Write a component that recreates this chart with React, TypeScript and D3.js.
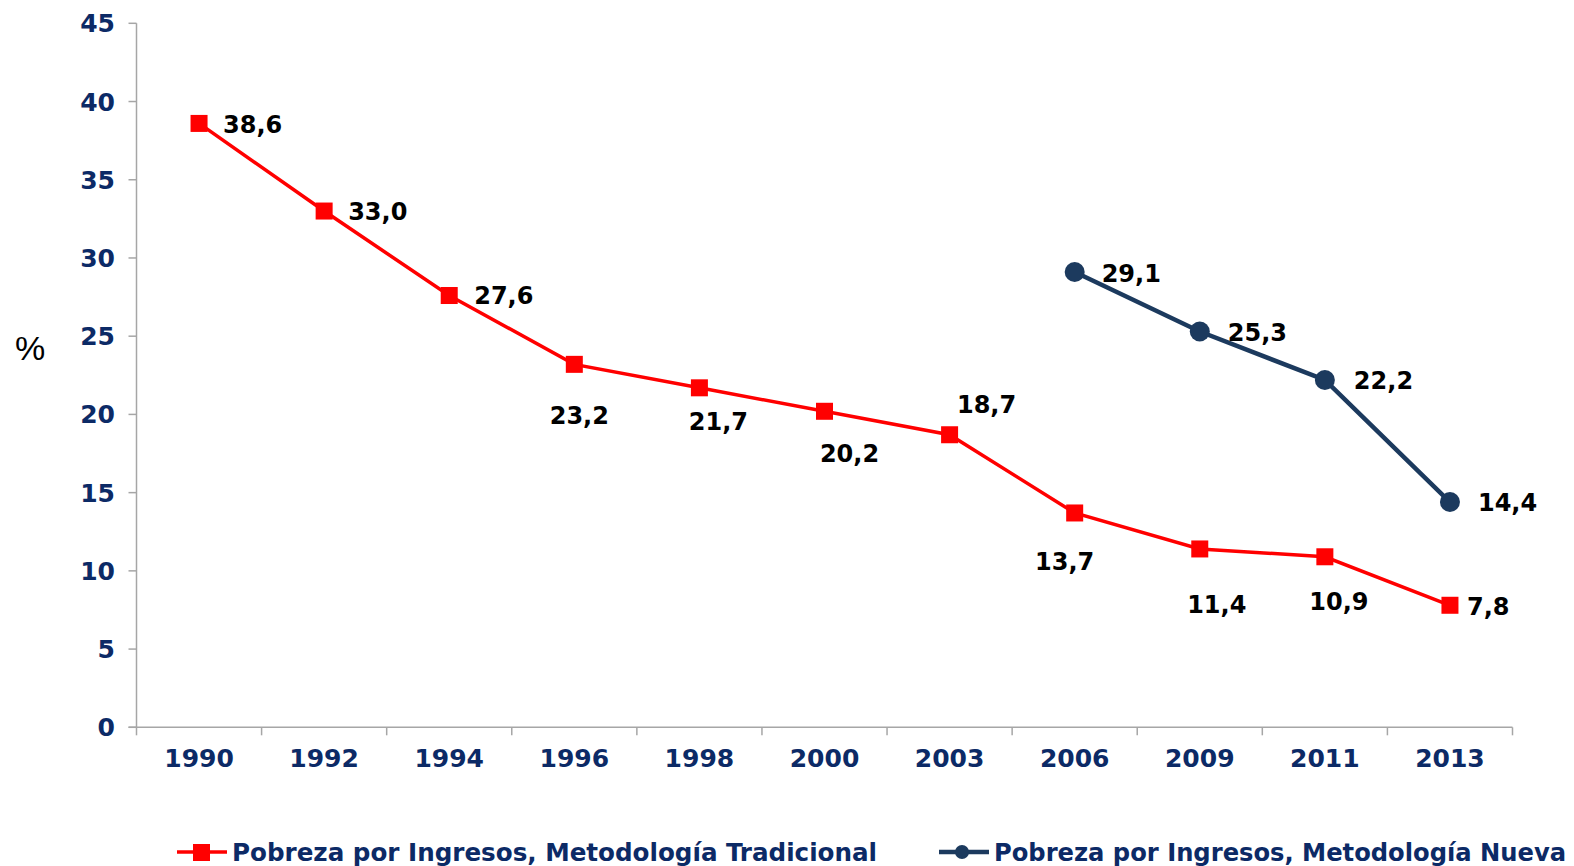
import React from 'react';
import * as d3 from 'd3';

const years = ['1990', '1992', '1994', '1996', '1998', '2000', '2003', '2006', '2009', '2011', '2013'];
const tradicional = [38.6, 33.0, 27.6, 23.2, 21.7, 20.2, 18.7, 13.7, 11.4, 10.9, 7.8];
const nueva = [null, null, null, null, null, null, null, 29.1, 25.3, 22.2, 14.4];
const yTicks = [0, 5, 10, 15, 20, 25, 30, 35, 40, 45];
// label placement relative to each point: [anchor, dx, dy]
const tradLabel: [string, number, number][] = [
  ['start', 24, 1], ['start', 24, 0], ['start', 25, 0], ['middle', 5, 51], ['middle', 19, 34],
  ['middle', 25, 42], ['middle', 37, -30], ['middle', -10, 48], ['middle', 17, 55], ['middle', 14, 45],
  ['start', 17, 1],
];
const nuevaLabel: [string, number, number][] = [
  ['start', 28, 1], ['start', 28, 1], ['start', 28, 1], ['start', 28, 1], ['start', 28, 1], ['start', 28, 1],
  ['start', 27, 1], ['start', 27, 1], ['start', 28, 1], ['start', 29, 0], ['start', 28, 0],
];

const W = 1574;
const H = 866;
const left = 136.5;
const right = 1512.5;
const top = 23.3;
const bottom = 727.3;
const navy = '#0c2a66';
const red = '#ff0000';
const blue = '#1c3a5e';
const grey = '#a6a6a6';
const font = '"DejaVu Sans", Verdana, sans-serif';
const condensed = '"DejaVu Sans Condensed", "DejaVu Sans", Verdana, sans-serif';

const fmt = (v: number) => v.toFixed(1).replace('.', ',');

export default function App() {
  const x = d3.scaleBand<string>().domain(years).range([left, right]);
  const y = d3.scaleLinear().domain([0, 45]).range([bottom, top]);
  const cx = (d: string) => (x(d) as number) + x.bandwidth() / 2;

  const line = d3
    .line<number | null>()
    .defined((d) => d != null)
    .x((_, i) => cx(years[i]))
    .y((d) => y(d as number));

  const label = (v: number | null, i: number, pos: [string, number, number]) =>
    v == null ? null : (
      <text key={i} x={cx(years[i]) + pos[1]} y={y(v) + pos[2]} dy="0.36em" textAnchor={pos[0]}
        fontFamily={font} fontWeight="bold" fontSize={24} fill="#000">
        {fmt(v)}
      </text>
    );

  return (
    <svg width={W} height={H} style={{ position: 'absolute', left: 0, top: 0, background: '#fff' }}>
      {/* axes */}
      <line x1={left} x2={left} y1={top} y2={bottom} stroke={grey} strokeWidth={1.5} />
      <line x1={left - 8} x2={right} y1={bottom} y2={bottom} stroke={grey} strokeWidth={1.5} />
      {yTicks.map((t) => (
        <g key={t}>
          <line x1={left - 8} x2={left} y1={y(t)} y2={y(t)} stroke={grey} strokeWidth={1.5} />
          <text x={115} y={y(t)} dy="0.36em" textAnchor="end" fontFamily={font} fontWeight="bold" fontSize={25} fill={navy}>
            {t}
          </text>
        </g>
      ))}
      {years.map((yr, i) => (
        <g key={yr}>
          <line x1={x(yr)} x2={x(yr)} y1={bottom} y2={bottom + 8} stroke={grey} strokeWidth={1.5} />
          {i === years.length - 1 && (
            <line x1={right} x2={right} y1={bottom} y2={bottom + 8} stroke={grey} strokeWidth={1.5} />
          )}
          <text x={cx(yr)} y={767} textAnchor="middle" fontFamily={font} fontWeight="bold" fontSize={25} fill={navy}>
            {yr}
          </text>
        </g>
      ))}
      <text x={30} y={360} textAnchor="middle" fontFamily='"Liberation Sans", Arial, sans-serif' fontSize={34} fill="#000">
        %
      </text>

      {/* series */}
      <path d={line(tradicional) || ''} fill="none" stroke={red} strokeWidth={3.5} />
      <path d={line(nueva) || ''} fill="none" stroke={blue} strokeWidth={4.5} />
      {tradicional.map((v, i) => (
        <rect key={i} x={cx(years[i]) - 8.5} y={y(v) - 8.5} width={17} height={17} fill={red} />
      ))}
      {nueva.map((v, i) =>
        v == null ? null : <circle key={i} cx={cx(years[i])} cy={y(v)} r={10} fill={blue} />
      )}
      {tradicional.map((v, i) => label(v, i, tradLabel[i]))}
      {nueva.map((v, i) => label(v, i, nuevaLabel[i]))}

      {/* legend */}
      <line x1={177} x2={227} y1={852} y2={852} stroke={red} strokeWidth={3.5} />
      <rect x={193} y={844} width={17} height={17} fill={red} />
      <text x={232} y={861} textLength={645} lengthAdjust="spacingAndGlyphs" fontFamily={condensed}
        fontStretch="condensed" fontWeight="bold" fontSize={25} fill={navy}>
        Pobreza por Ingresos, Metodología Tradicional
      </text>
      <line x1={939} x2={989} y1={852} y2={852} stroke={blue} strokeWidth={4.5} />
      <circle cx={962} cy={852} r={7} fill={blue} />
      <text x={994} y={861} textLength={572} lengthAdjust="spacingAndGlyphs" fontFamily={condensed}
        fontStretch="condensed" fontWeight="bold" fontSize={25} fill={navy}>
        Pobreza por Ingresos, Metodología Nueva
      </text>
    </svg>
  );
}
